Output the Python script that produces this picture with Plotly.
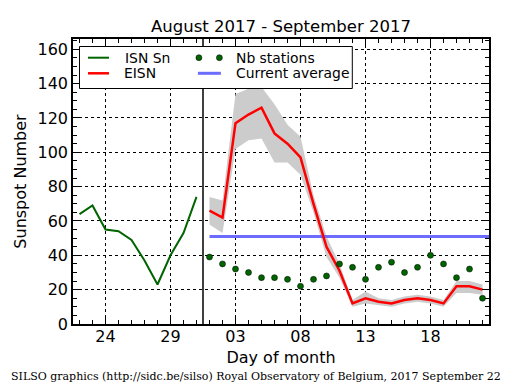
import plotly.graph_objects as go
import pandas as pd

# ---- data ----
isn_dates = pd.date_range("2017-08-22", "2017-08-31", freq="D")
isn_values = [64, 69, 55, 54, 49, 37, 23, 40, 53, 74]

eisn_dates = pd.date_range("2017-09-01", "2017-09-22", freq="D")
eisn_values = [66, 62, 117, 122, 126, 111, 105, 97, 70, 45, 31, 12, 15, 13, 12, 14, 15, 14, 12, 22, 22, 20]
eisn_upper = [74, 72, 134, 137, 138, 128, 116, 109, 75, 51, 35, 14, 19, 15, 14, 16, 17, 16, 14, 25, 25, 23]
eisn_lower = [58, 53, 102, 107, 108, 94, 94, 87, 65, 39, 27, 10, 12, 11, 10, 12, 13, 12, 10, 18, 18, 17]
nb_stations = [39, 35, 32, 30, 27, 27, 26, 22, 26, 28, 35, 33, 26, 33, 36, 30, 33, 40, 35, 27, 32, 15]

current_average = 51
avg_span = ["2017-09-01", "2017-09-22 12:00"]
split_date = "2017-08-31 12:00"
x_range = ["2017-08-21 12:00", "2017-09-22 12:00"]
y_range = [0, 166]

title_text = "August 2017 - September 2017"
footer_text = "SILSO graphics (http://sidc.be/silso) Royal Observatory of Belgium, 2017 September 22"

FONT = "DejaVu Sans"
OFF = 8  # page body margin
W, H = 515 - OFF, 390 - OFF
# plot area in screen pixels: x 73..489.3, y 39.3..324
ML = 73 - OFF
MT = 39 - OFF
MR = W - (489.3 - OFF)
MB = H - (324 - OFF)
PW = W - ML - MR
PH = H - MT - MB


def px(x):
    return (x - OFF - ML) / PW


def py(y):
    return (H - MB - (y - OFF)) / PH


fig = go.Figure()

# band
fig.add_trace(go.Scatter(x=eisn_dates, y=eisn_lower, mode="lines", line=dict(width=0),
                         showlegend=False, hoverinfo="skip"))
fig.add_trace(go.Scatter(x=eisn_dates, y=eisn_upper, mode="lines", line=dict(width=0),
                         fill="tonexty", fillcolor="#cccccc", showlegend=False, hoverinfo="skip"))
# ISN
fig.add_trace(go.Scatter(x=isn_dates, y=isn_values, mode="lines",
                         line=dict(color="#006400", width=2), name="ISN Sn", showlegend=False))
# current average
fig.add_trace(go.Scatter(x=avg_span, y=[current_average, current_average], mode="lines",
                         line=dict(color="rgba(100,100,255,0.95)", width=3), name="Current average",
                         showlegend=False))
# EISN
fig.add_trace(go.Scatter(x=eisn_dates, y=eisn_values, mode="lines",
                         line=dict(color="#ff0000", width=2.5), name="EISN", showlegend=False))
# Nb stations
fig.add_trace(go.Scatter(x=eisn_dates, y=nb_stations, mode="markers",
                         marker=dict(color="#006400", size=6, line=dict(color="black", width=0.5)),
                         name="Nb stations", showlegend=False))

# vertical separator
fig.add_shape(type="line", xref="x", yref="paper", x0=split_date, x1=split_date, y0=0, y1=1,
              line=dict(color="black", width=1.5))

# manual legend (matplotlib style, 2 columns)
shapes = []
shapes.append(dict(type="rect", xref="paper", yref="paper", x0=px(79.5), x1=px(352.5),
                   y0=py(88.5), y1=py(46.5), line=dict(color="black", width=1),
                   fillcolor="white", layer="above"))
shapes.append(dict(type="line", xref="paper", yref="paper", x0=px(88), x1=px(109),
                   y0=py(57.7), y1=py(57.7), line=dict(color="#006400", width=2), layer="above"))
shapes.append(dict(type="line", xref="paper", yref="paper", x0=px(88), x1=px(109),
                   y0=py(73.3), y1=py(73.3), line=dict(color="#ff0000", width=2.5), layer="above"))
shapes.append(dict(type="line", xref="paper", yref="paper", x0=px(198), x1=px(221),
                   y0=py(73.3), y1=py(73.3), line=dict(color="rgba(100,100,255,0.95)", width=3),
                   layer="above"))
for cx in (199, 219.5):
    shapes.append(dict(type="circle", xref="paper", yref="paper", x0=px(cx - 3), x1=px(cx + 3),
                       y0=py(57.7 + 3), y1=py(57.7 - 3), fillcolor="#006400",
                       line=dict(color="black", width=0.5), layer="above"))
for s in shapes:
    fig.add_shape(**s)

legend_texts = [("ISN Sn", 123, 57.7), ("EISN", 122, 73.3),
                ("Nb stations", 234, 57.7), ("Current average", 234, 73.3)]
for t, x, y in legend_texts:
    fig.add_annotation(text=t, xref="paper", yref="paper", x=px(x), y=py(y),
                       xanchor="left", yanchor="middle", showarrow=False,
                       font=dict(family=FONT, size=13.9, color="black"))

fig.add_annotation(text=footer_text, xref="paper", yref="paper", x=px(9), y=py(376),
                   xanchor="left", yanchor="middle", showarrow=False,
                   font=dict(family="DejaVu Serif", size=11, color="black"))

axis_common = dict(showline=True, linecolor="black", linewidth=1.5, mirror="allticks",
                   ticks="inside", ticklen=7, tickcolor="black", tickwidth=1,
                   showgrid=True, gridcolor="black", griddash="dot", gridwidth=1,
                   zeroline=False, tickfont=dict(family=FONT, size=16, color="black"))

fig.update_xaxes(type="date", range=x_range, tick0="2017-08-24", dtick=5 * 86400000,
                 tickformat="%d", ticklabelstandoff=-3,
                 minor=dict(dtick=86400000, ticks="inside", ticklen=4, tickcolor="black",
                            showgrid=False),
                 title=dict(text="Day of month", font=dict(family=FONT, size=16, color="black"),
                            standoff=7),
                 **axis_common)
fig.update_yaxes(range=y_range, dtick=20,
                 minor=dict(dtick=5, ticks="inside", ticklen=4, tickcolor="black",
                            showgrid=False),
                 title=dict(text="Sunspot Number", font=dict(family=FONT, size=16, color="black"),
                            standoff=7),
                 **axis_common)

fig.update_layout(
    width=W, height=H,
    margin=dict(l=ML, r=MR, t=MT, b=MB, autoexpand=False),
    paper_bgcolor="white", plot_bgcolor="white",
    title=dict(text=title_text, x=(281 - OFF) / W, xanchor="center", xref="container",
               y=1 - (26 - OFF) / H, yanchor="middle", yref="container",
               font=dict(family=FONT, size=16.5, color="black")),
    showlegend=False,
)

fig.write_html("out.html")
